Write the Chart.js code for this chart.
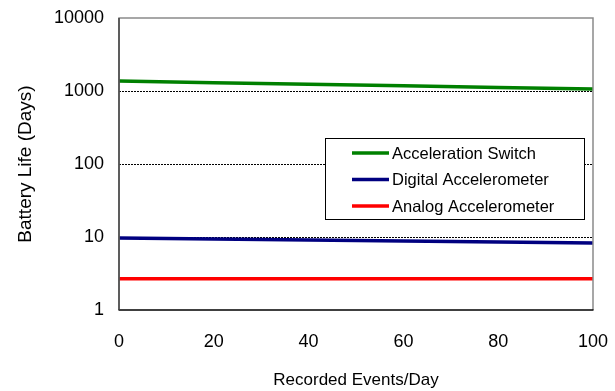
<!DOCTYPE html>
<html>
<head>
<meta charset="utf-8">
<script src="https://cdn.jsdelivr.net/npm/chart.js@4"></script>
<style>
html,body{margin:0;padding:0;background:#fff;}
#wrap{width:615px;height:391px;position:relative;}
</style>
</head>
<body>
<div id="wrap"><canvas id="c" width="615" height="391"></canvas></div>
<script>
const eventsPerDay = [0, 20, 40, 60, 80, 100];
const accelerationSwitch = [1370, 1300, 1240, 1180, 1120, 1065];
const digitalAccelerometer = [9.7, 9.4, 9.1, 8.8, 8.55, 8.3];
const analogAccelerometer = [2.68, 2.68, 2.68, 2.68, 2.68, 2.68];
const yTicks = [1, 10, 100, 1000, 10000];
const xTicks = [0, 20, 40, 60, 80, 100];
const seriesNames = ['Acceleration Switch', 'Digital Accelerometer', 'Analog Accelerometer'];
const seriesColors = ['#008000', '#000080', '#ff0000'];

const FONT = "'Liberation Sans', Arial, sans-serif";

function pts(ys) { return eventsPerDay.map((x, i) => ({x: x, y: ys[i]})); }

const frame = {
  id: 'frame',
  afterDatasetsDraw(chart) {
    const {ctx, chartArea: a} = chart;
    ctx.save();
    ctx.strokeStyle = '#8a8a8a';
    ctx.lineWidth = 1.5;
    ctx.beginPath();
    ctx.moveTo(a.left, a.bottom);
    ctx.lineTo(a.left, a.top);
    ctx.lineTo(a.right, a.top);
    ctx.lineTo(a.right, a.bottom);
    ctx.stroke();
    ctx.strokeStyle = '#000';
    ctx.beginPath();
    ctx.moveTo(a.left - 0.5, a.bottom);
    ctx.lineTo(a.right + 0.5, a.bottom);
    ctx.stroke();
    ctx.strokeStyle = '#444';
    ctx.beginPath();
    ctx.moveTo(a.left, a.bottom);
    ctx.lineTo(a.left, a.top);
    ctx.stroke();
    ctx.restore();
  }
};

const boxLegend = {
  id: 'boxLegend',
  afterDraw(chart) {
    const {ctx} = chart;
    const x0 = 325, y0 = 138, w = 259, h = 81;
    ctx.save();
    ctx.fillStyle = '#fff';
    ctx.fillRect(x0, y0, w, h);
    ctx.strokeStyle = '#000';
    ctx.lineWidth = 1;
    ctx.strokeRect(x0 + 0.5, y0 + 0.5, w, h);
    ctx.font = '16.5px ' + FONT;
    ctx.textBaseline = 'middle';
    chart.data.datasets.forEach((ds, i) => {
      const cy = y0 + 15 + i * 26.5;
      ctx.strokeStyle = ds.borderColor;
      ctx.lineWidth = 3.5;
      ctx.beginPath();
      ctx.moveTo(x0 + 27, cy);
      ctx.lineTo(x0 + 64, cy);
      ctx.stroke();
      ctx.fillStyle = '#000';
      ctx.fillText(ds.label, x0 + 67, cy + 1);
    });
    ctx.restore();
  }
};

new Chart(document.getElementById('c'), {
  type: 'line',
  data: {
    datasets: [
      {label: seriesNames[0], data: pts(accelerationSwitch), borderColor: seriesColors[0]},
      {label: seriesNames[1], data: pts(digitalAccelerometer), borderColor: seriesColors[1]},
      {label: seriesNames[2], data: pts(analogAccelerometer), borderColor: seriesColors[2]}
    ].map(d => Object.assign(d, {borderWidth: 3.5, pointRadius: 0, tension: 0, fill: false}))
  },
  options: {
    responsive: false,
    animation: false,
    layout: {padding: {left: 0, right: 22, top: 18, bottom: 0}},
    plugins: {legend: {display: false}, tooltip: {enabled: false}},
    scales: {
      x: {
        type: 'linear', min: 0, max: 100,
        afterBuildTicks: s => { s.ticks = xTicks.map(v => ({value: v})); },
        afterFit: s => { s.height = 81; s.paddingLeft = 0; s.paddingRight = 0; },
        grid: {display: false, drawTicks: false},
        border: {display: false},
        ticks: {color: '#000', font: {family: FONT, size: 18}, padding: 21, maxRotation: 0},
        title: {display: true, text: 'Recorded Events/Day', color: '#000', font: {family: FONT, size: 17}, padding: {top: 12, bottom: 0}}
      },
      y: {
        type: 'logarithmic', min: 1, max: 10000,
        afterBuildTicks: s => { s.ticks = yTicks.map(v => ({value: v})); },
        afterFit: s => { s.width = 119; s.paddingTop = 0; s.paddingBottom = 0; },
        grid: {
          drawTicks: false,
          color: c => (c.tick && (c.tick.value === 1 || c.tick.value === 10000)) ? 'rgba(0,0,0,0)' : '#000',
          lineWidth: 1
        },
        border: {display: false, dash: [2, 1]},
        ticks: {color: '#000', font: {family: FONT, size: 18}, padding: 15, callback: v => String(v)},
        title: {display: true, text: 'Battery Life (Days)', color: '#000', font: {family: FONT, size: 19}, padding: {top: 14, bottom: 8}}
      }
    }
  },
  plugins: [frame, boxLegend]
});
</script>
</body>
</html>
